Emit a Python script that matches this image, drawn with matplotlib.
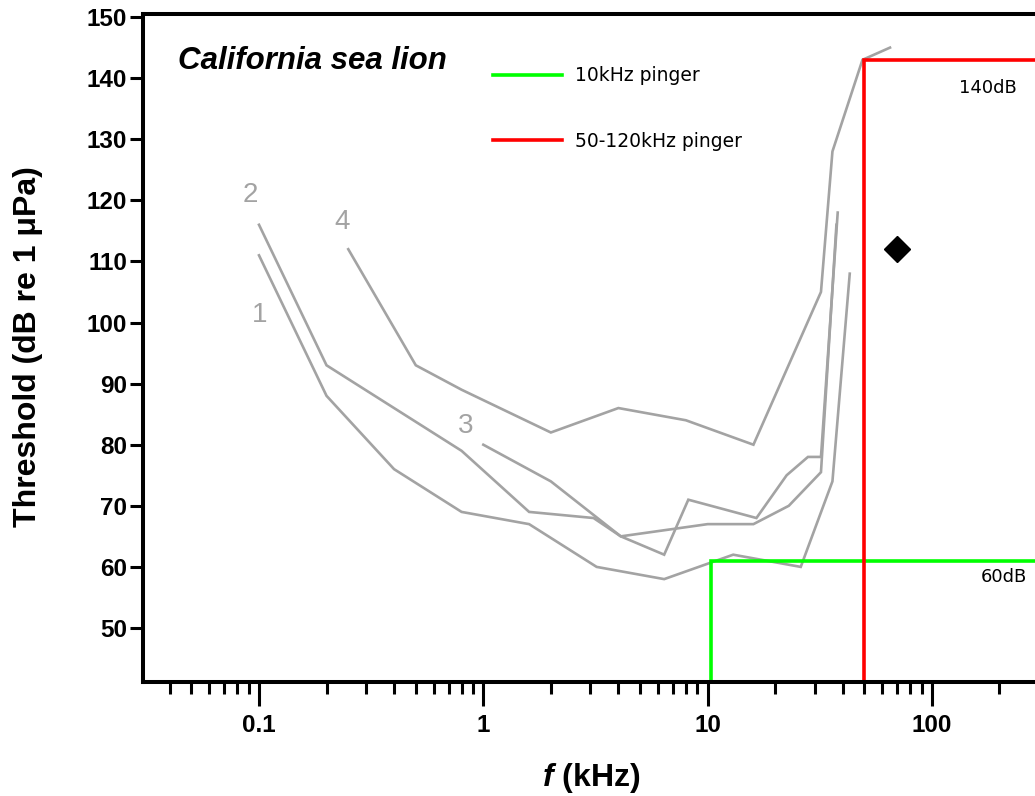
import matplotlib
matplotlib.use("Agg")
from matplotlib import pyplot as plt
from matplotlib.ticker import LogLocator, NullFormatter

plt.rcParams['font.family'] = ['Liberation Sans', 'DejaVu Sans']
plt.rcParams['mathtext.fontset'] = 'custom'
plt.rcParams['mathtext.it'] = 'Liberation Sans:italic:bold'

# audiogram curves (frequency in kHz, threshold in dB re 1 uPa)
c1_freq = [0.1, 0.2, 0.4, 0.8, 1.6, 3.2, 6.4, 13, 26, 36, 43]
c1_db = [111, 88, 76, 69, 67, 60, 58, 62, 60, 74, 108]

c2_freq = [0.1, 0.2, 0.4, 0.8, 1.6, 3.1, 4.1, 10, 16, 23, 32, 37.5]
c2_db = [116, 93, 86, 79, 69, 68, 65, 67, 67, 70, 75.5, 116]

c3_freq = [1, 2, 4.1, 6.4, 8.2, 16.5, 22.5, 28, 32, 38]
c3_db = [80, 74, 65, 62, 71, 68, 75, 78, 78, 118]

c4_freq = [0.25, 0.5, 0.8, 2, 4, 8, 16, 32, 36, 49, 65]
c4_db = [112, 93, 89, 82, 86, 84, 80, 105, 128, 143, 145]

curves = [(c1_freq, c1_db), (c2_freq, c2_db), (c3_freq, c3_db), (c4_freq, c4_db)]
curve_labels = ['1', '2', '3', '4']
label_freq = [0.101, 0.0912, 0.837, 0.234]
label_db = [101.3, 120.9, 83.0, 116.5]

# pingers: lowest frequency and source level
pinger_names = ['10kHz pinger', '50-120kHz pinger']
pinger_freq = [10.3, 50]
pinger_level = [61, 143]
pinger_colors = ['#00ff00', '#ff0000']
pinger_text = ['60dB', '140dB']
pinger_text_freq = [209, 178]
pinger_text_db = [58.3, 138.4]

point_freq = [70]
point_db = [112]

xmin, xmax = 0.0304, 300
ymin, ymax = 41.16, 150.5

fig = plt.figure(figsize=(10.35, 7.96), dpi=100)
ax = fig.add_axes([143 / 1035, 114 / 796, 896 / 1035, 668 / 796])

grey = '#a3a3a3'
for (f, db) in curves:
    ax.plot(f, db, color=grey, lw=1.9, solid_joinstyle='miter')

for lab, f, db in zip(curve_labels, label_freq, label_db):
    ax.text(f, db, lab, color=grey, fontsize=20, ha='center', va='center')

for name, f, lvl, col in zip(pinger_names, pinger_freq, pinger_level, pinger_colors):
    ax.plot([f, f, xmax], [ymin, lvl, lvl], color=col, lw=2.6, label=name,
            solid_joinstyle='miter')

for t, f, db in zip(pinger_text, pinger_text_freq, pinger_text_db):
    ax.text(f, db, t, fontsize=13, family='DejaVu Sans', ha='center', va='center')

ax.plot(point_freq, point_db, 'D', color='black', markersize=13)

ax.set_xscale('log')
ax.set_xlim(xmin, xmax)
ax.set_ylim(ymin, ymax)

ax.set_xticks([0.1, 1, 10, 100])
ax.set_xticklabels(['0.1', '1', '10', '100'])
ax.xaxis.set_minor_locator(LogLocator(base=10, subs=range(2, 10), numticks=20))
ax.xaxis.set_minor_formatter(NullFormatter())
ax.set_yticks(range(50, 151, 10))

for lab in ax.get_xticklabels() + ax.get_yticklabels():
    lab.set_fontweight('bold')
    lab.set_fontsize(17.5)

ax.tick_params(axis='x', which='major', length=17, width=2.2, pad=6)
ax.tick_params(axis='x', which='minor', length=8.6, width=2.2)
ax.tick_params(axis='y', which='major', length=9.4, width=2.2, pad=2)

for side in ['left', 'bottom', 'top']:
    ax.spines[side].set_linewidth(2.9)
ax.spines['right'].set_visible(False)

ax.text(0.039, 0.93, 'California sea lion', transform=ax.transAxes,
        fontsize=22.5, fontweight='bold', style='italic', va='center', ha='left')

ax.set_xlabel(r'$f$ (kHz)', fontsize=23, fontweight='bold')
ax.xaxis.set_label_coords(0.5, -0.118)
ax.xaxis.label.set_va('top')
fig.text(28 / 1035, 1 - 347 / 796, 'Threshold (dB re 1 \u03bcPa)', rotation=90,
         fontsize=23, fontweight='bold', ha='center', va='center')

ax.legend(loc='upper left', bbox_to_anchor=(0.3906, 0.922), frameon=False,
          prop={'family': 'DejaVu Sans', 'size': 13.5}, handlelength=3.7,
          handletextpad=0.65, labelspacing=2.5, borderpad=0, borderaxespad=0)

plt.savefig('out.png', dpi=100)
